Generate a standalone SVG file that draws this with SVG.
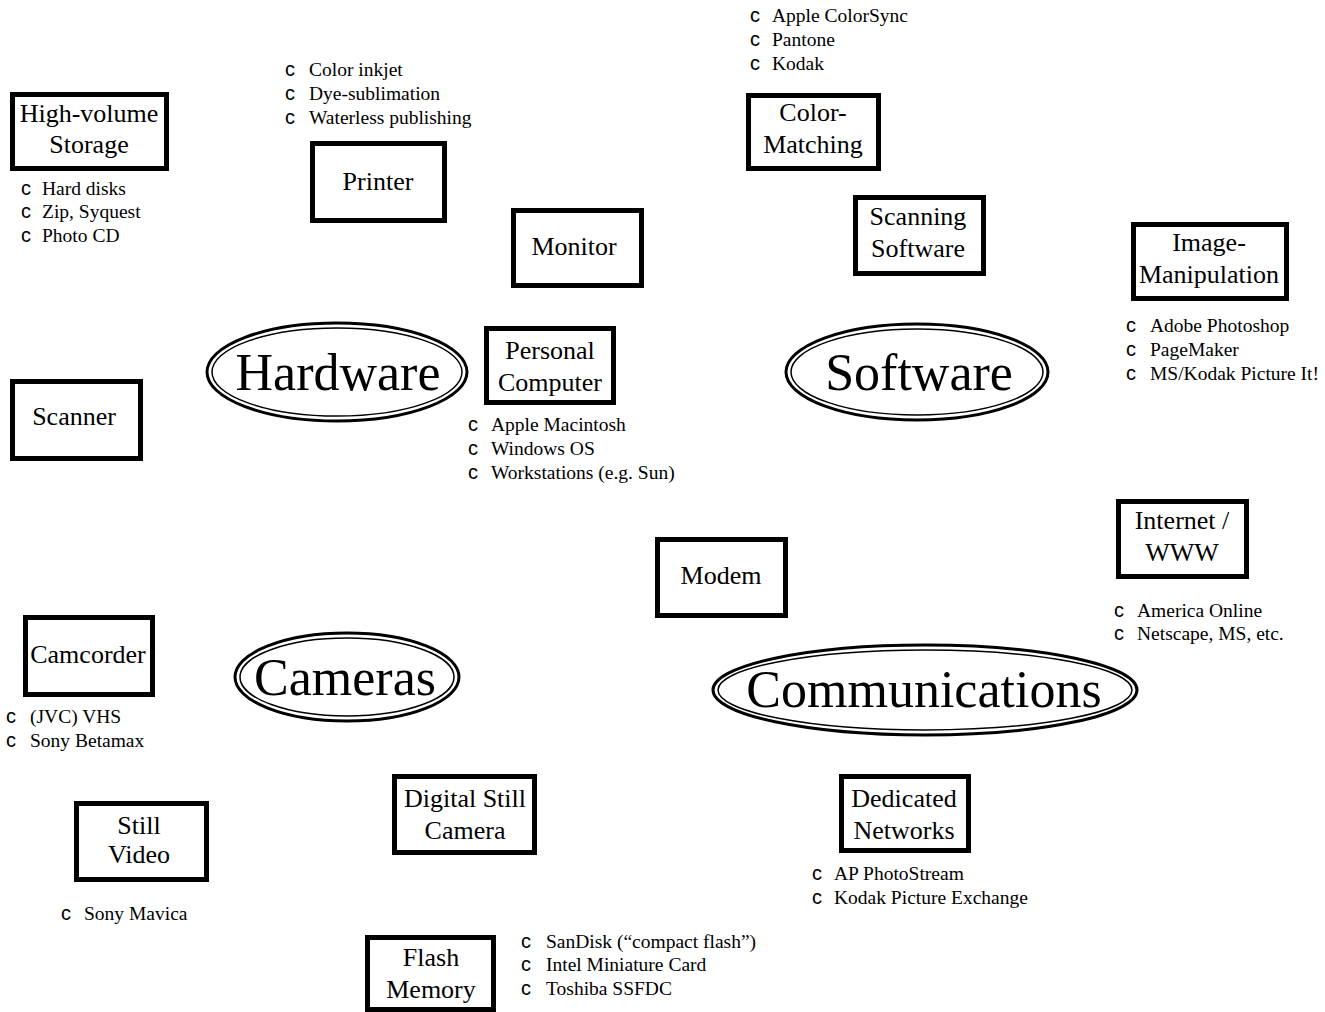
<svg xmlns="http://www.w3.org/2000/svg" width="1325" height="1012" viewBox="0 0 1325 1012">
<style>
.box{fill:#fff;stroke:#000;stroke-width:5}
.lbl{font-family:"Liberation Serif",serif;font-size:26px;fill:#000;text-anchor:middle}
.big{font-family:"Liberation Serif",serif;font-size:52px;fill:#000;text-anchor:middle}
.eo{fill:#fff;stroke:#000;stroke-width:3}
.ei{fill:none;stroke:#000;stroke-width:1.5}
.b{font-family:"Liberation Sans",sans-serif;font-size:20px;fill:#000}
.t{font-family:"Liberation Serif",serif;font-size:19.5px;fill:#000}
</style>
<rect width="1325" height="1012" fill="#fff"/>
<g id="connectors"></g>

<g id="hardware">
<ellipse class="eo" cx="337" cy="372" rx="130" ry="49"/>
<ellipse class="ei" cx="337" cy="372" rx="125" ry="44"/>
<text class="big" x="338" y="390">Hardware</text>
</g>
<g id="software">
<ellipse class="eo" cx="917" cy="372" rx="131" ry="48"/>
<ellipse class="ei" cx="917" cy="372" rx="126" ry="43"/>
<text class="big" x="919" y="390">Software</text>
</g>
<g id="communications">
<ellipse class="eo" cx="925" cy="690" rx="212" ry="45"/>
<ellipse class="ei" cx="925" cy="690" rx="207" ry="40"/>
<text class="big" x="924" y="707">Communications</text>
</g>
<g id="cameras">
<ellipse class="eo" cx="347" cy="677" rx="112" ry="44"/>
<ellipse class="ei" cx="347" cy="677" rx="107" ry="39"/>
<text class="big" x="345" y="695">Cameras</text>
</g>

<g id="high-volume-storage">
<rect class="box" x="12.5" y="94.5" width="154" height="74"/>
<text class="lbl" x="89" y="122">High-volume</text>
<text class="lbl" x="89" y="153">Storage</text>
<text class="b" x="21" y="195">c</text><text class="t" x="42" y="195">Hard disks</text>
<text class="b" x="21" y="218">c</text><text class="t" x="42" y="218">Zip, Syquest</text>
<text class="b" x="21" y="242">c</text><text class="t" x="42" y="242">Photo CD</text>
</g>

<g id="printer">
<rect class="box" x="312.5" y="143.5" width="132" height="77"/>
<text class="lbl" x="378" y="190">Printer</text>
<text class="b" x="285" y="76">c</text><text class="t" x="309" y="76">Color inkjet</text>
<text class="b" x="285" y="100">c</text><text class="t" x="309" y="100">Dye-sublimation</text>
<text class="b" x="285" y="124">c</text><text class="t" x="309" y="124">Waterless publishing</text>
</g>

<g id="monitor">
<rect class="box" x="513.5" y="210.5" width="128" height="75"/>
<text class="lbl" x="574" y="255">Monitor</text>
</g>

<g id="personal-computer">
<rect class="box" x="486.5" y="328.5" width="127" height="74"/>
<text class="lbl" x="550" y="359">Personal</text>
<text class="lbl" x="550" y="391">Computer</text>
<text class="b" x="468" y="431">c</text><text class="t" x="491" y="431">Apple Macintosh</text>
<text class="b" x="468" y="455">c</text><text class="t" x="491" y="455">Windows OS</text>
<text class="b" x="468" y="479">c</text><text class="t" x="491" y="479">Workstations (e.g. Sun)</text>
</g>

<g id="scanner">
<rect class="box" x="12.5" y="381.5" width="128" height="77"/>
<text class="lbl" x="74" y="425">Scanner</text>
</g>

<g id="color-matching">
<rect class="box" x="748.5" y="95.5" width="130" height="73"/>
<text class="lbl" x="813" y="121">Color-</text>
<text class="lbl" x="813" y="153">Matching</text>
<text class="b" x="750" y="22">c</text><text class="t" x="772" y="22">Apple ColorSync</text>
<text class="b" x="750" y="46">c</text><text class="t" x="772" y="46">Pantone</text>
<text class="b" x="750" y="70">c</text><text class="t" x="772" y="70">Kodak</text>
</g>

<g id="scanning-software">
<rect class="box" x="855.5" y="197.5" width="128" height="76"/>
<text class="lbl" x="918" y="225">Scanning</text>
<text class="lbl" x="918" y="257">Software</text>
</g>

<g id="image-manipulation">
<rect class="box" x="1133.5" y="224.5" width="153" height="74"/>
<text class="lbl" x="1209" y="251">Image-</text>
<text class="lbl" x="1209" y="283">Manipulation</text>
<text class="b" x="1126" y="332">c</text><text class="t" x="1150" y="332">Adobe Photoshop</text>
<text class="b" x="1126" y="356">c</text><text class="t" x="1150" y="356">PageMaker</text>
<text class="b" x="1126" y="380">c</text><text class="t" x="1150" y="380">MS/Kodak Picture It!</text>
</g>

<g id="internet-www">
<rect class="box" x="1118.5" y="501.5" width="128" height="75"/>
<text class="lbl" x="1182" y="529">Internet /</text>
<text class="lbl" x="1182" y="561">WWW</text>
<text class="b" x="1114" y="617">c</text><text class="t" x="1137" y="617">America Online</text>
<text class="b" x="1114" y="640">c</text><text class="t" x="1137" y="640">Netscape, MS, etc.</text>
</g>

<g id="modem">
<rect class="box" x="657.5" y="539.5" width="128" height="76"/>
<text class="lbl" x="721" y="584">Modem</text>
</g>

<g id="camcorder">
<rect class="box" x="25.5" y="617.5" width="127" height="77"/>
<text class="lbl" x="88" y="663">Camcorder</text>
<text class="b" x="6" y="723">c</text><text class="t" x="30" y="723">(JVC) VHS</text>
<text class="b" x="6" y="747">c</text><text class="t" x="30" y="747">Sony Betamax</text>
</g>

<g id="still-video">
<rect class="box" x="76.5" y="803.5" width="130" height="76"/>
<text class="lbl" x="139" y="834">Still</text>
<text class="lbl" x="139" y="863">Video</text>
<text class="b" x="61" y="920">c</text><text class="t" x="84" y="920">Sony Mavica</text>
</g>

<g id="digital-still-camera">
<rect class="box" x="394.5" y="776.5" width="140" height="76"/>
<text class="lbl" x="465" y="807">Digital Still</text>
<text class="lbl" x="465" y="839">Camera</text>
</g>

<g id="dedicated-networks">
<rect class="box" x="841.5" y="776.5" width="127" height="74"/>
<text class="lbl" x="904" y="807">Dedicated</text>
<text class="lbl" x="904" y="839">Networks</text>
<text class="b" x="812" y="880">c</text><text class="t" x="834" y="880">AP PhotoStream</text>
<text class="b" x="812" y="904">c</text><text class="t" x="834" y="904">Kodak Picture Exchange</text>
</g>

<g id="flash-memory">
<rect class="box" x="367.5" y="937.5" width="126" height="72"/>
<text class="lbl" x="431" y="966">Flash</text>
<text class="lbl" x="431" y="998">Memory</text>
<text class="b" x="521" y="948">c</text><text class="t" x="546" y="948">SanDisk (“compact flash”)</text>
<text class="b" x="521" y="971">c</text><text class="t" x="546" y="971">Intel Miniature Card</text>
<text class="b" x="521" y="995">c</text><text class="t" x="546" y="995">Toshiba SSFDC</text>
</g>
</svg>
